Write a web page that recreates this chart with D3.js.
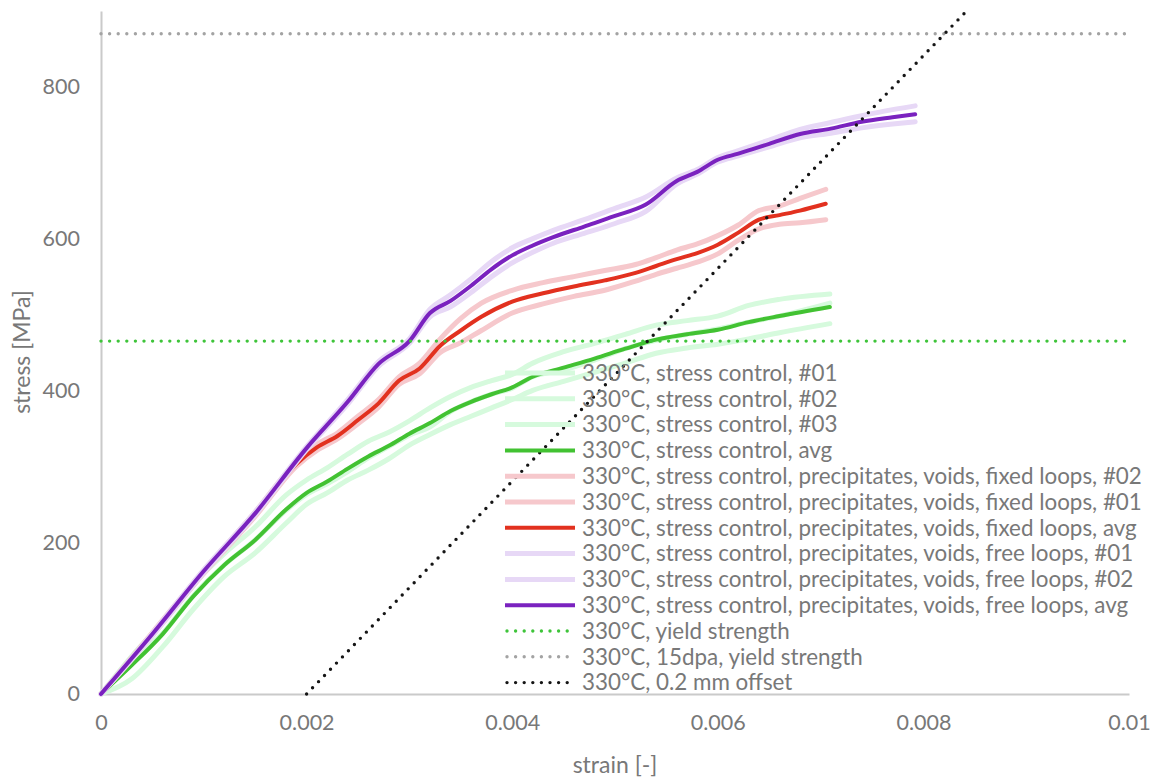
<!DOCTYPE html>
<html>
<head>
<meta charset="utf-8">
<script src="https://cdn.jsdelivr.net/npm/d3@7"></script>
<style>
  body { margin: 0; background: #fff; }
  svg { display: block; }
  text { font-family: Lato, "Open Sans", sans-serif; }
</style>
</head>
<body>
<svg id="chart" width="1153" height="778"></svg>
<script>
// ---- data: strain [-] vs stress [MPa] ----
const greenStrain = [0, 0.0003, 0.0006, 0.0009, 0.0012, 0.0015, 0.0018, 0.002, 0.0022, 0.0024, 0.0026, 0.0028, 0.003, 0.0032, 0.0034, 0.0036, 0.0038, 0.004, 0.0042, 0.0045, 0.0048, 0.0051, 0.0054, 0.0057, 0.006, 0.0063, 0.0066, 0.00709];
const green01  = [0, 50, 95, 145, 185, 220, 262, 282, 298, 316, 333, 345, 360, 377, 392, 404, 413, 421, 436, 451, 462, 474, 486, 492, 498, 512, 520, 527];
const green02  = [0, 20, 62, 112, 155, 186, 225, 250, 265, 282, 295, 310, 328, 342, 355, 366, 377, 388, 400, 412, 424, 436, 449, 456, 461, 468, 476, 488];
const green03  = [0, 44, 80, 130, 170, 203, 242, 263, 277, 293, 311, 326, 341, 352, 372, 385, 395, 403, 418, 427, 440, 455, 466, 474, 481, 490, 498, 515];
const greenAvg = [0, 38, 79, 129, 170, 203, 243, 265, 280, 297, 313, 327, 343, 357, 373, 385, 395, 404, 418, 430, 442, 455, 467, 474, 480, 490, 498, 510];

const redStrain = [0, 0.0005, 0.001, 0.0015, 0.0019, 0.0021, 0.0023, 0.0025, 0.0027, 0.0029, 0.0031, 0.0033, 0.0035, 0.0037, 0.004, 0.0043, 0.0046, 0.0049, 0.0052, 0.0054, 0.0056, 0.0058, 0.006, 0.0062, 0.0064, 0.0066, 0.0068, 0.00705];
const red02  = [0, 81, 163, 240, 306, 329, 344, 366, 388, 418, 436, 468, 495, 515, 532, 542, 550, 558, 566, 575, 585, 593, 604, 618, 637, 643, 653, 665];
const red01  = [0, 77, 159, 234, 300, 321, 336, 356, 378, 408, 422, 450, 463, 479, 502, 514, 524, 532, 544, 553, 561, 569, 580, 598, 613, 619, 621, 625];
const redAvg = [0, 79, 161, 237, 303, 325, 340, 361, 383, 413, 429, 459, 479, 497, 517, 528, 537, 545, 555, 564, 573, 581, 592, 608, 625, 631, 637, 646];

const purpleStrain = [0, 0.0005, 0.001, 0.0015, 0.002, 0.0024, 0.0027, 0.003, 0.0032, 0.0034, 0.0036, 0.0038, 0.004, 0.0042, 0.0044, 0.0047, 0.005, 0.0053, 0.0056, 0.0058, 0.006, 0.0062, 0.0065, 0.0068, 0.0071, 0.0074, 0.0077, 0.00792];
const purple01  = [0, 80, 164, 240, 326, 388, 438, 468, 507, 526, 547, 570, 588, 600, 611, 625, 640, 655, 680, 691, 707, 716, 730, 744, 753, 762, 770, 775];
const purple02  = [0, 77, 160, 236, 322, 382, 432, 462, 497, 510, 529, 550, 568, 582, 594, 607, 620, 636, 672, 685, 701, 709, 721, 733, 739, 746, 751, 754];
const purpleAvg = [0, 79, 162, 238, 324, 385, 435, 465, 502, 518, 538, 560, 578, 591, 602, 616, 630, 645, 676, 688, 704, 712, 725, 738, 745, 754, 760, 764];

// reference lines
const yieldStress = 465;        // 330°C yield strength
const yieldStress15dpa = 870;   // 330°C, 15dpa yield strength
const offsetStrain = [0.002, 0.00842];
const offsetStress = [0, 900];

const xTicks = [0, 0.002, 0.004, 0.006, 0.008, 0.01];
const xTickLabels = ["0", "0.002", "0.004", "0.006", "0.008", "0.01"];
const yTicks = [0, 200, 400, 600, 800];

const legendLabels = [
  "330°C, stress control, #01",
  "330°C, stress control, #02",
  "330°C, stress control, #03",
  "330°C, stress control, avg",
  "330°C, stress control, precipitates, voids, fixed loops, #02",
  "330°C, stress control, precipitates, voids, fixed loops, #01",
  "330°C, stress control, precipitates, voids, fixed loops, avg",
  "330°C, stress control, precipitates, voids, free loops, #01",
  "330°C, stress control, precipitates, voids, free loops, #02",
  "330°C, stress control, precipitates, voids, free loops, avg",
  "330°C, yield strength",
  "330°C, 15dpa, yield strength",
  "330°C, 0.2 mm offset"
];

// ---- styles ----
const C = {
  greenLight: "#d6fadd", green: "#42c232",
  redLight: "#f6c8cc", red: "#e2311f",
  purpleLight: "#e7d8f6", purple: "#7a22bf",
  yieldGreen: "#3ec43a", grey: "#a3a3a3", black: "#151515",
  axis: "#cacaca", text: "#787878"
};

const svg = d3.select("#chart");
const plot = { left: 101, right: 1129, top: 11, bottom: 694 };

const x = d3.scaleLinear().domain([0, 0.01]).range([plot.left, plot.right]);
const y = d3.scaleLinear().domain([0, 900]).range([plot.bottom, plot.top]);

// axes
const yAxis = d3.axisLeft(y).tickValues(yTicks).tickSize(0).tickSizeOuter(0).tickPadding(21);
const gy = svg.append("g").attr("transform", `translate(${plot.left},0)`).call(yAxis);
const xAxis = d3.axisBottom(x).tickValues(xTicks).tickSize(0).tickSizeOuter(0).tickPadding(21)
  .tickFormat((d, i) => xTickLabels[i]);
const gx = svg.append("g").attr("transform", `translate(0,${plot.bottom})`).call(xAxis);
[gx, gy].forEach(g => {
  g.select(".domain").attr("stroke", C.axis).attr("stroke-width", 2);
  g.selectAll("text").attr("fill", C.text).style("font-size", "21.5px").style("font-family", "Lato, sans-serif");
});

// axis titles
svg.append("text").attr("x", 615).attr("y", 773).attr("text-anchor", "middle")
  .attr("fill", C.text).style("font-size", "23px").text("strain [-]");
svg.append("text").attr("transform", "translate(30,352) rotate(-90)").attr("text-anchor", "middle")
  .attr("fill", C.text).style("font-size", "23px").text("stress [MPa]");

// curves
const line = d3.line().x(d => x(d[0])).y(d => y(d[1])).curve(d3.curveMonotoneX);
const zipSeries = (xs, ys) => xs.map((v, i) => [v, ys[i]]);

const series = [
  { xs: greenStrain, ys: green01, color: C.greenLight, w: 5 },
  { xs: greenStrain, ys: green02, color: C.greenLight, w: 5 },
  { xs: greenStrain, ys: green03, color: C.greenLight, w: 5 },
  { xs: greenStrain, ys: greenAvg, color: C.green, w: 4 },
  { xs: redStrain, ys: red02, color: C.redLight, w: 5 },
  { xs: redStrain, ys: red01, color: C.redLight, w: 5 },
  { xs: redStrain, ys: redAvg, color: C.red, w: 4 },
  { xs: purpleStrain, ys: purple01, color: C.purpleLight, w: 5 },
  { xs: purpleStrain, ys: purple02, color: C.purpleLight, w: 5 },
  { xs: purpleStrain, ys: purpleAvg, color: C.purple, w: 4 }
];

svg.append("g").selectAll("path").data(series).join("path")
  .attr("d", s => line(zipSeries(s.xs, s.ys)))
  .attr("fill", "none")
  .attr("stroke", s => s.color)
  .attr("stroke-width", s => s.w)
  .attr("stroke-linejoin", "round")
  .attr("stroke-linecap", "round");

// dotted reference lines
const dotted = [
  { pts: [[0, yieldStress], [0.01, yieldStress]], color: C.yieldGreen },
  { pts: [[0, yieldStress15dpa], [0.01, yieldStress15dpa]], color: C.grey },
  { pts: zipSeries(offsetStrain, offsetStress), color: C.black }
];
const straight = d3.line().x(d => x(d[0])).y(d => y(d[1]));
svg.append("g").selectAll("path").data(dotted).join("path")
  .attr("d", d => straight(d.pts))
  .attr("fill", "none")
  .attr("stroke", d => d.color)
  .attr("stroke-width", 3.4)
  .attr("stroke-linecap", "round")
  .attr("stroke-dasharray", "0 8.6");

// legend
const legendStyles = [
  { color: C.greenLight, w: 5 }, { color: C.greenLight, w: 5 }, { color: C.greenLight, w: 5 }, { color: C.green, w: 4 },
  { color: C.redLight, w: 5 }, { color: C.redLight, w: 5 }, { color: C.red, w: 4 },
  { color: C.purpleLight, w: 5 }, { color: C.purpleLight, w: 5 }, { color: C.purple, w: 4 },
  { color: C.yieldGreen, dot: true }, { color: C.grey, dot: true }, { color: C.black, dot: true }
];
const legend = svg.append("g").attr("transform", "translate(505,373)");
const rows = legend.selectAll("g").data(legendLabels).join("g")
  .attr("transform", (d, i) => `translate(0,${i * 25.8})`);
rows.append("line")
  .attr("x1", (d, i) => legendStyles[i].dot ? 2 : 0)
  .attr("x2", (d, i) => legendStyles[i].dot ? 68 : 70)
  .attr("y1", 0).attr("y2", 0)
  .attr("stroke", (d, i) => legendStyles[i].color)
  .attr("stroke-width", (d, i) => legendStyles[i].dot ? 3.4 : legendStyles[i].w)
  .attr("stroke-linecap", (d, i) => legendStyles[i].dot ? "round" : "butt")
  .attr("stroke-dasharray", (d, i) => legendStyles[i].dot ? "0 8.6" : null);
rows.append("text")
  .attr("x", 77).attr("y", 0).attr("dy", "0.35em")
  .attr("fill", C.text).style("font-size", "22.4px")
  .text(d => d);
</script>
</body>
</html>
